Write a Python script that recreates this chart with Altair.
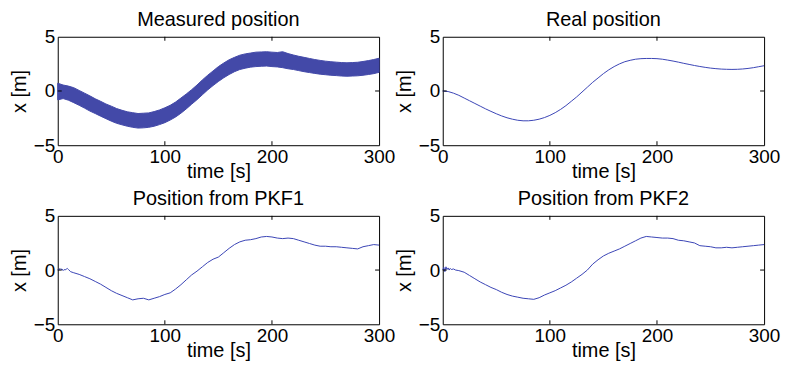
import altair as alt
import pandas as pd

# ---------------- data ----------------
T = list(range(0, 301, 5))

REAL = [0.0, -0.05, -0.2, -0.4, -0.65, -0.9, -1.15, -1.4, -1.65, -1.88,
        -2.1, -2.3, -2.47, -2.6, -2.7, -2.75, -2.75, -2.7, -2.6, -2.45,
        -2.25, -2.0, -1.7, -1.35, -0.95, -0.55, -0.1, 0.35, 0.8, 1.2,
        1.6, 1.95, 2.25, 2.5, 2.7, 2.83, 2.93, 2.98, 3.0, 3.0,
        2.98, 2.93, 2.85, 2.76, 2.66, 2.55, 2.45, 2.35, 2.26, 2.18,
        2.11, 2.06, 2.02, 2.0, 1.99, 2.0, 2.03, 2.08, 2.15, 2.24, 2.33]

MEAS_HI = [0.72, 0.55, 0.45, 0.3, 0.05, -0.2, -0.45, -0.72, -0.95, -1.2,
           -1.4, -1.62, -1.78, -1.92, -2.0, -2.08, -2.05, -2.02, -1.9, -1.75,
           -1.55, -1.32, -1.02, -0.65, -0.28, 0.12, 0.55, 1.02, 1.45, 1.85,
           2.25, 2.58, 2.88, 3.1, 3.3, 3.42, 3.5, 3.58, 3.6, 3.62,
           3.58, 3.55, 3.62, 3.45, 3.32, 3.2, 3.1, 3.0, 2.9, 2.82,
           2.75, 2.7, 2.66, 2.62, 2.6, 2.62, 2.65, 2.72, 2.8, 2.9, 3.02]

MEAS_LO = [-0.82, -0.7, -0.85, -1.08, -1.32, -1.58, -1.85, -2.08, -2.32, -2.55,
           -2.78, -2.98, -3.12, -3.25, -3.35, -3.42, -3.4, -3.35, -3.25, -3.1,
           -2.92, -2.68, -2.4, -2.05, -1.65, -1.22, -0.8, -0.35, 0.1, 0.5,
           0.88, 1.22, 1.52, 1.78, 1.98, 2.1, 2.2, 2.25, 2.28, 2.3,
           2.25, 2.22, 2.15, 2.05, 1.98, 1.88, 1.78, 1.7, 1.62, 1.55,
           1.5, 1.45, 1.42, 1.38, 1.36, 1.38, 1.4, 1.45, 1.52, 1.6, 1.72]

PKF1_T = [0, 1, 2, 3, 4, 5, 6, 7, 8, 9, 10, 12, 15] + list(range(20, 301, 5))
PKF1 = [0.1, 0.0, 0.15, 0.05, 0.1, -0.05, 0.05, 0.0, 0.1, 0.15, 0.05, -0.15, -0.25,
        -0.4, -0.6, -0.8, -1.05, -1.3, -1.6, -1.9, -2.15, -2.35, -2.55,
        -2.75, -2.65, -2.6, -2.75, -2.6, -2.45, -2.25, -2.1, -1.75, -1.35,
        -0.9, -0.45, -0.1, 0.3, 0.7, 1.0, 1.2, 1.6, 2.0, 2.35,
        2.6, 2.75, 2.8, 2.9, 3.05, 3.1, 3.05, 2.95, 2.9, 2.95,
        2.9, 2.75, 2.6, 2.45, 2.3, 2.2, 2.2, 2.15, 2.15, 2.1,
        2.05, 2.0, 1.95, 2.15, 2.25, 2.35, 2.3]

PKF2_T = [0, 1, 2, 3, 4, 5, 6, 7, 8, 10, 12, 15] + list(range(20, 301, 5))
PKF2 = [0.0, 0.25, -0.15, 0.3, 0.05, 0.2, 0.0, 0.15, 0.05, 0.1, 0.0, -0.05,
        -0.2, -0.5, -0.8, -1.1, -1.35, -1.6, -1.8, -2.05, -2.25, -2.4,
        -2.5, -2.6, -2.65, -2.7, -2.55, -2.3, -2.1, -1.9, -1.65, -1.4,
        -1.1, -0.75, -0.4, 0.0, 0.55, 0.95, 1.3, 1.55, 1.75, 1.95,
        2.2, 2.45, 2.7, 2.95, 3.1, 3.05, 3.0, 2.95, 2.95, 2.9,
        2.75, 2.7, 2.6, 2.5, 2.25, 2.2, 2.15, 2.05, 2.05, 2.1,
        2.05, 2.1, 2.15, 2.2, 2.25, 2.3, 2.35]

X_TICKS = [0, 100, 200, 300]
Y_TICKS = [-5, 0, 5]
X_INNER_TICKS = [100, 200]
Y_INNER_TICKS = [0]
X_DOMAIN = [0, 300]
Y_DOMAIN = [-5, 5]
TITLES = ["Measured position", "Real position", "Position from PKF1", "Position from PKF2"]
X_TITLE = "time [s]"
Y_TITLE = "x [m]"

# ---------------- styling ----------------
W, H = 323, 109
FONT = "Liberation Sans"
FS = 19
TFS = 20
BAND = "#4349a8"
LINE = "#3a45b5"
TICK_LEN = 4

xscale = alt.Scale(domain=X_DOMAIN, nice=False, zero=False)
yscale = alt.Scale(domain=Y_DOMAIN, nice=False, zero=False)

xaxis = alt.Axis(values=X_TICKS, title=X_TITLE, grid=False, ticks=False, domain=False,
                 labelFontSize=FS, titleFontSize=TFS, labelFont=FONT, titleFont=FONT,
                 labelColor="black", titleColor="black", titleFontWeight="normal",
                 labelPadding=2, titlePadding=-5, labelFlush=False, labelOverlap=False)
yaxis = alt.Axis(values=Y_TICKS, title=Y_TITLE, grid=False, ticks=False, domain=False,
                 labelFontSize=FS, titleFontSize=TFS, labelFont=FONT, titleFont=FONT,
                 labelColor="black", titleColor="black", titleFontWeight="normal",
                 labelPadding=3, titlePadding=4, labelFlush=False, labelOverlap=False)


def tick_layers():
    xt = pd.DataFrame({"t": X_INNER_TICKS})
    yt = pd.DataFrame({"v": Y_INNER_TICKS})
    bottom = alt.Chart(xt).mark_rule(color="black", strokeWidth=1, y2Offset=-TICK_LEN).encode(
        x=alt.X("t:Q", scale=xscale, axis=xaxis),
        y=alt.YDatum(Y_DOMAIN[0], scale=yscale, axis=yaxis), y2=alt.datum(Y_DOMAIN[0]))
    top = alt.Chart(xt).mark_rule(color="black", strokeWidth=1, y2Offset=TICK_LEN).encode(
        x=alt.X("t:Q", scale=xscale, axis=xaxis),
        y=alt.YDatum(Y_DOMAIN[1], scale=yscale, axis=yaxis), y2=alt.datum(Y_DOMAIN[1]))
    left = alt.Chart(yt).mark_rule(color="black", strokeWidth=1, x2Offset=TICK_LEN).encode(
        y=alt.Y("v:Q", scale=yscale, axis=yaxis),
        x=alt.XDatum(X_DOMAIN[0], scale=xscale, axis=xaxis), x2=alt.datum(X_DOMAIN[0]))
    right = alt.Chart(yt).mark_rule(color="black", strokeWidth=1, x2Offset=-TICK_LEN).encode(
        y=alt.Y("v:Q", scale=yscale, axis=yaxis),
        x=alt.XDatum(X_DOMAIN[1], scale=xscale, axis=xaxis), x2=alt.datum(X_DOMAIN[1]))
    return [bottom, top, left, right]


def panel(main, title):
    return alt.layer(main, *tick_layers()).properties(
        width=W, height=H,
        title=alt.Title(title, fontSize=TFS, font=FONT, fontWeight="normal",
                        color="black", offset=-2, anchor="middle"))


meas_df = pd.DataFrame({"t": T, "hi": MEAS_HI, "lo": MEAS_LO})
real_df = pd.DataFrame({"t": T, "x": REAL})
p1_df = pd.DataFrame({"t": PKF1_T, "x": PKF1})
p2_df = pd.DataFrame({"t": PKF2_T, "x": PKF2})

meas = alt.Chart(meas_df).mark_area(color=BAND, stroke=BAND, strokeWidth=1, opacity=1).encode(
    x=alt.X("t:Q", scale=xscale, axis=xaxis),
    y=alt.Y("hi:Q", scale=yscale, axis=yaxis),
    y2="lo:Q")


def line(df):
    return alt.Chart(df).mark_line(color=LINE, strokeWidth=1).encode(
        x=alt.X("t:Q", scale=xscale, axis=xaxis),
        y=alt.Y("x:Q", scale=yscale, axis=yaxis))


chart = alt.concat(
    panel(meas, TITLES[0]),
    panel(line(real_df), TITLES[1]),
    panel(line(p1_df), TITLES[2]),
    panel(line(p2_df), TITLES[3]),
    columns=2, spacing={"row": 71, "column": 64}, bounds="flush",
).properties(
    padding={"left": 0, "top": 0, "right": 0, "bottom": 0},
    background="white",
).configure_view(stroke="black", strokeWidth=1)

chart.save("out.html", embed_options={"renderer": "svg", "actions": False})
